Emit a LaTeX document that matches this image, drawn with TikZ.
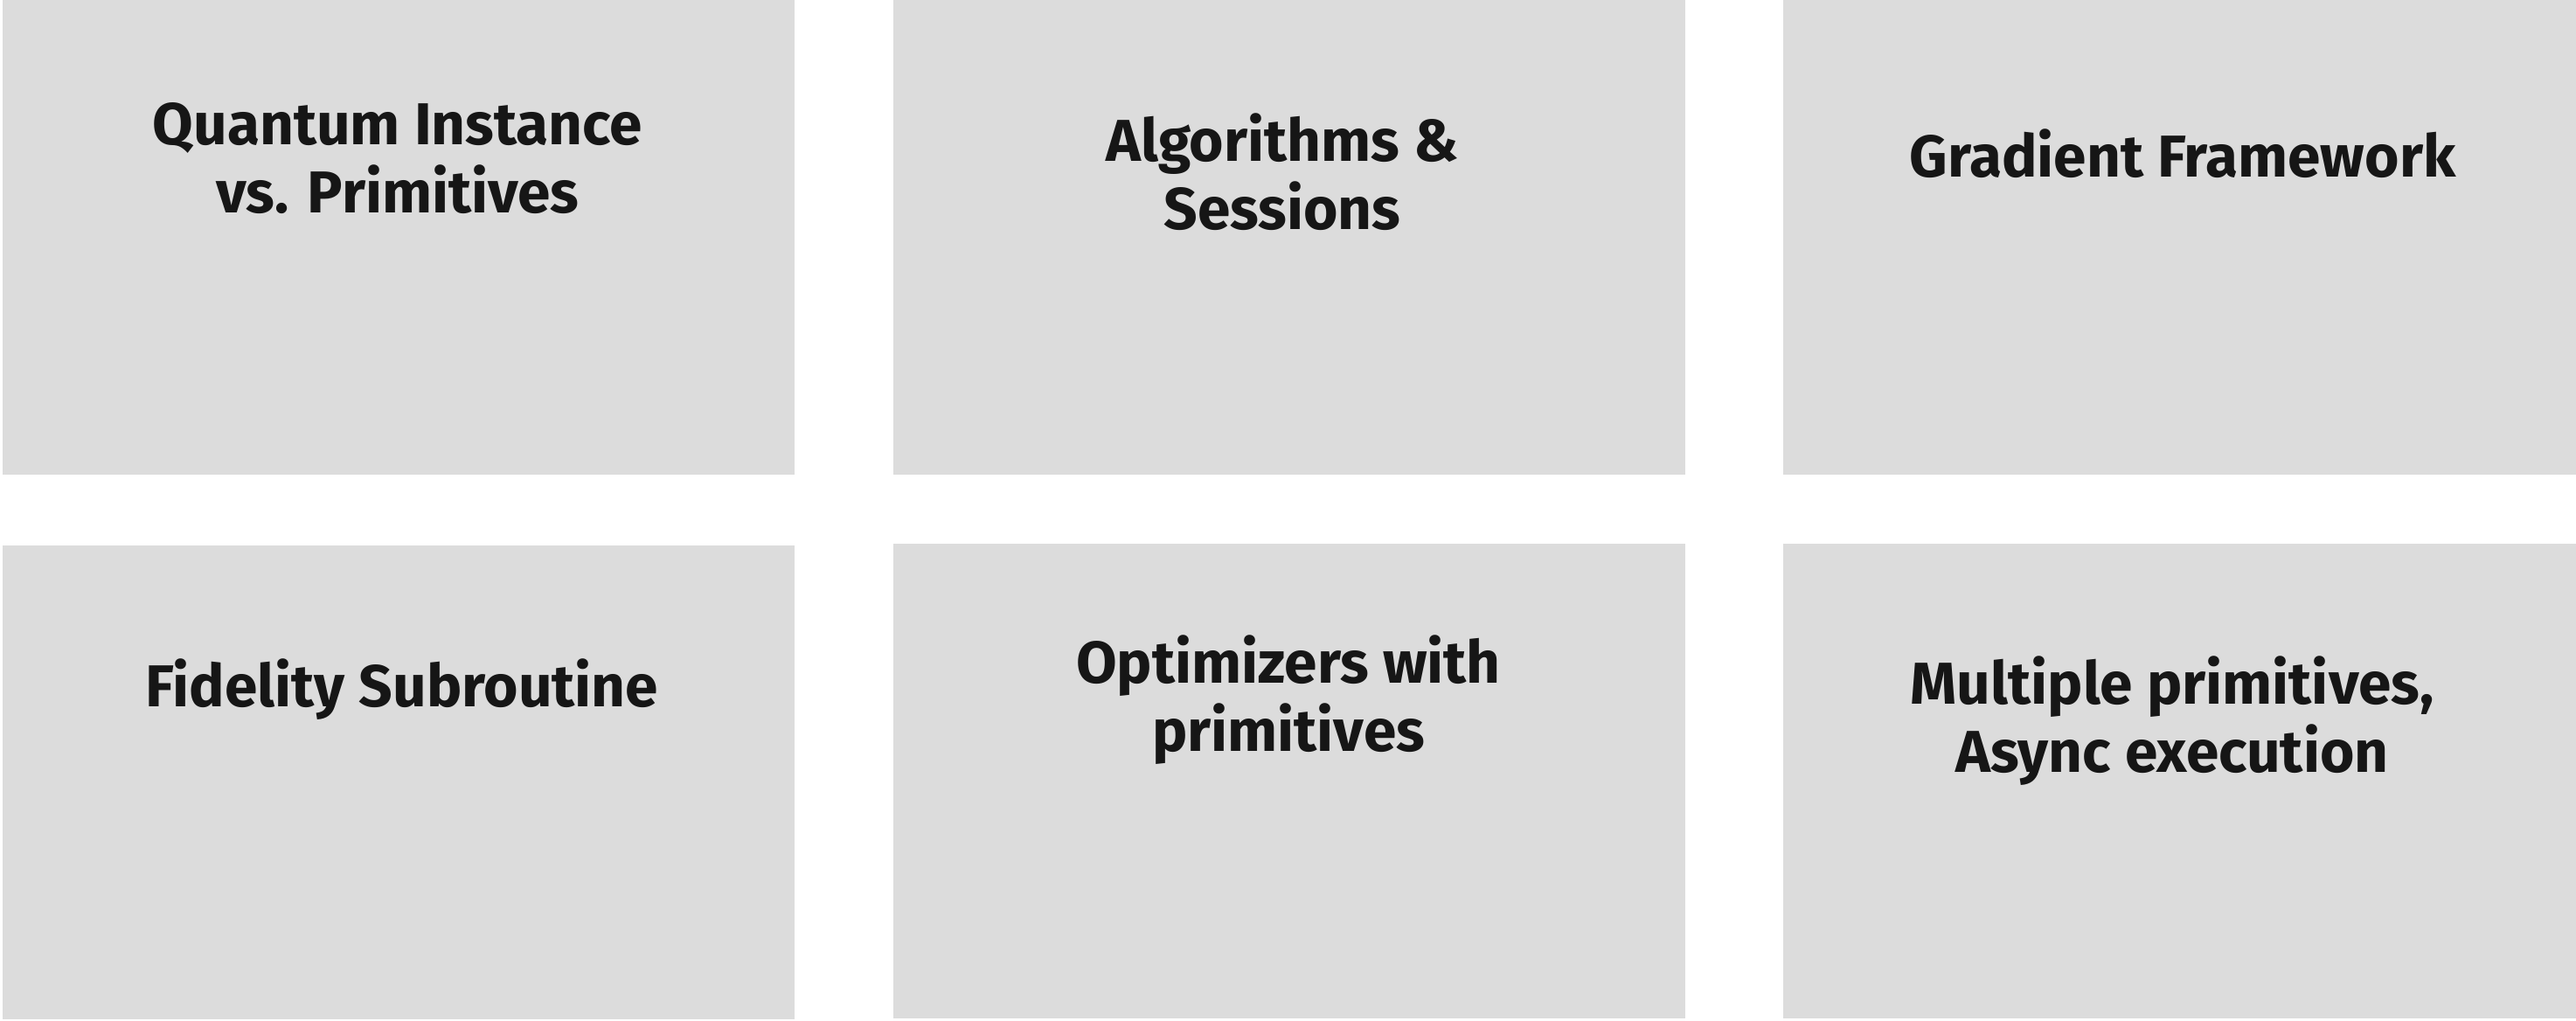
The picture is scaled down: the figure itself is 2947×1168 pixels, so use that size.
\documentclass[tikz,border=0pt]{standalone}
\usepackage{fontspec}
\setmainfont{Fira Sans}
\definecolor{boxgray}{HTML}{DCDCDC}
\definecolor{inkdark}{HTML}{161616}
\begin{document}
\begin{tikzpicture}[x=0.25pt,y=-0.25pt,
  tile/.style={fill=boxgray,draw=none},
  lbl/.style={anchor=base,align=center,text=inkdark,font=\fontsize{16.9pt}{19.5pt}\selectfont\bfseries,inner sep=0pt}]
\useasboundingbox (0,0) rectangle (2947,1168);
\fill[white] (0,0) rectangle (2947,1168);
% tiles
\path[tile] (3,0) rectangle (909,543);
\path[tile] (1022,0) rectangle (1928,543);
\path[tile] (2040,0) rectangle (2947,543);
\path[tile] (3,624) rectangle (909,1166);
\path[tile] (1022,622) rectangle (1928,1165);
\path[tile] (2040,622) rectangle (2947,1165);
% labels (base anchor = baseline of the last line)
\node[lbl] (t1) at (455,243) {Quantum Instance\\vs. Primitives};
\node[lbl] (t2) at (1467,262) {Algorithms \&\\Sessions};
\node[lbl] (t3) at (2497,202) {Gradient Framework};
\node[lbl] (t4) at (460,808) {Fidelity Subroutine};
\node[lbl] (t5) at (1474,859) {Optimizers with\\primitives};
\node[lbl] (t6) at (2485,883) {Multiple primitives,\\Async execution};
\end{tikzpicture}
\end{document}
